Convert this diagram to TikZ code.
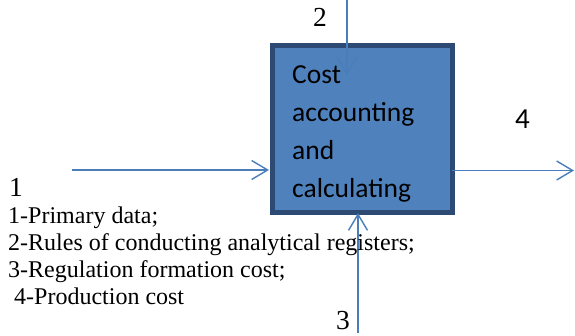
\documentclass[tikz,border=0pt]{standalone}
\usepackage{fontspec}
\setmainfont{Liberation Serif}
\newfontfamily\boxfont{Carlito}
\usetikzlibrary{arrows.meta}
\definecolor{flowblue}{HTML}{4A7EBB}
\definecolor{boxfill}{HTML}{4F81BD}
\definecolor{boxedge}{HTML}{2C4A74}
\begin{document}
\begin{tikzpicture}[x=1pt,y=-1pt,
  flow/.style={draw=flowblue,line width=1.4pt,
    -{Straight Barb[length=16pt,width=19pt,line width=1.4pt]}},
  procbox/.style={draw=boxedge,fill=boxfill,line width=5pt,
    minimum width=180pt,minimum height=167pt,inner sep=0pt},
  numlabel/.style={font=\fontsize{27.5}{30}\selectfont,inner sep=0pt,anchor=base west},
  legend/.style={font=\fontsize{24}{27}\selectfont,inner sep=0pt,anchor=base west}]
\useasboundingbox (0,0) rectangle (575,335);

% central process block
\node[procbox] (box) at (362.5,129) {};
% anchor "base" of a multi-line node sits on its last line
\node[font=\boxfont\fontsize{27.5}{38}\selectfont,align=left,anchor=base west,inner sep=0pt]
  (boxtext) at (292,197) {Cost\\accounting\\and\\calculating};

% free ends of the connectors
\coordinate (in1) at (72,170);
\coordinate (tip1) at (269,170);
\coordinate (top2) at (347,0);
\coordinate (tip2) at (347,75);
\coordinate (bot3) at (358,333);
\coordinate (tip3) at (358,213);
\coordinate (out4) at (452,170.5);
\coordinate (tip4) at (574,170.5);

\draw[flow] (in1) -- (tip1);
\draw[flow] (top2) -- (tip2);
\draw[flow] (bot3) -- (tip3);
\draw[flow] (out4) -- (tip4);

% connector numbers
\node[numlabel] (n1) at (9,196) {1};
\node[numlabel] (n2) at (313,26) {2};
\node[numlabel] (n3) at (336,329.5) {3};
\node[numlabel,font=\boxfont\fontsize{29}{30}\selectfont] (n4) at (515,128) {4};

% legend
\node[legend] (l1) at (8,223) {1-Primary data;};
\node[legend] (l2) at (8,250) {2-Rules of conducting analytical registers;};
\node[legend] (l3) at (8,277) {3-Regulation formation cost;};
\node[legend] (l4) at (8,304) {\ 4-Production cost};
\end{tikzpicture}
\end{document}
